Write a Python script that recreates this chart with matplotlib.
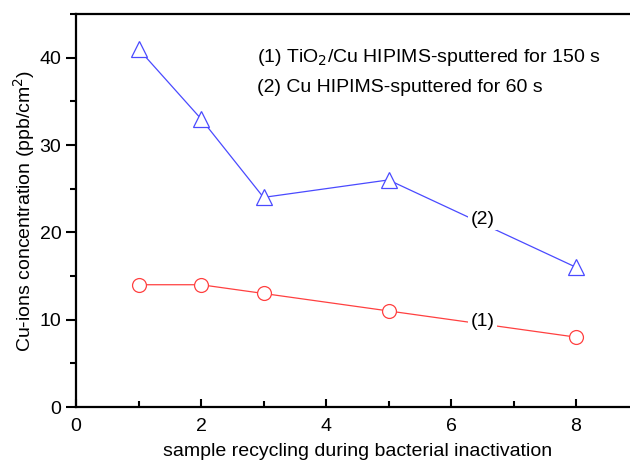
import matplotlib.pyplot as plt
from matplotlib.ticker import MultipleLocator

plt.rcParams['font.family'] = ['Liberation Sans', 'DejaVu Sans']

cycles_1 = [1, 2, 3, 5, 8]
conc_1 = [14, 14, 13, 11, 8]        # TiO2/Cu, 150 s
cycles_2 = [1, 2, 3, 5, 8]
conc_2 = [41, 33, 24, 26, 16]       # Cu, 60 s

fig = plt.figure(figsize=(6.3, 4.63), dpi=100)
# axes extend past the right edge, like the cropped original
ax = fig.add_axes([76/630, 56/463, 562.5/630, 393/463])

ax.plot(cycles_1, conc_1, color='#ff4040', lw=0.9, marker='o', ms=10,
        mfc='white', mec='#ff4040', mew=0.9)
ax.plot(cycles_2, conc_2, color='#4a4aff', lw=0.9, marker='^', ms=12,
        mfc='white', mec='#4a4aff', mew=0.9)

ax.set_xlim(0, 9)
ax.set_ylim(0, 45)
ax.xaxis.set_major_locator(MultipleLocator(2))
ax.xaxis.set_minor_locator(MultipleLocator(1))
ax.yaxis.set_major_locator(MultipleLocator(10))
ax.yaxis.set_minor_locator(MultipleLocator(5))
ax.tick_params(axis='x', which='both', direction='in', labelsize=14, pad=8)
ax.tick_params(axis='x', which='major', length=6, width=1.5)
ax.tick_params(axis='x', which='minor', length=4, width=1.5)
ax.tick_params(axis='y', which='both', direction='out', labelsize=14)
ax.tick_params(axis='y', which='major', length=7, width=1.5)
ax.tick_params(axis='y', which='minor', length=4, width=1.5)
for s in ax.spines.values():
    s.set_linewidth(1.6)

ax.set_xlabel('sample recycling during bacterial inactivation', fontsize=14, labelpad=6)
ax.set_ylabel('Cu-ions concentration (ppb/cm$^2$)', fontsize=14, labelpad=2)

ax.text(2.9, 40, '(1) TiO$_2$/Cu HIPIMS-sputtered for 150 s', fontsize=14, va='center')
ax.text(2.9, 36.6, '(2) Cu HIPIMS-sputtered for 60 s', fontsize=14, va='center')

box = dict(facecolor='white', edgecolor='none', pad=2)
ax.text(6.5, 9.8, '(1)', fontsize=14, ha='center', va='center', bbox=box)
ax.text(6.5, 21.5, '(2)', fontsize=14, ha='center', va='center', bbox=box)

fig.savefig('out.png', dpi=100)
